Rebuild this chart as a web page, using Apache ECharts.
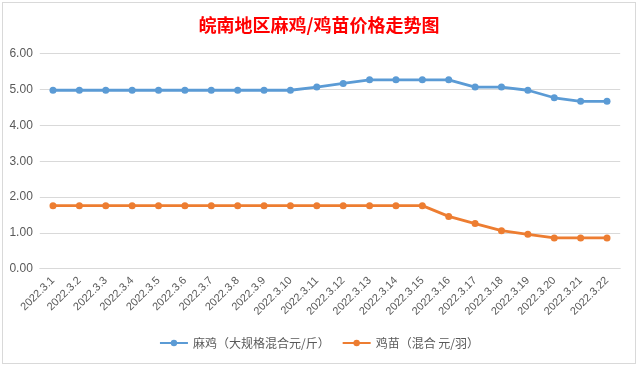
<!DOCTYPE html>
<html>
<head>
<meta charset="utf-8">
<script src="https://cdn.jsdelivr.net/npm/echarts@6/dist/echarts.min.js"></script>
<style>
html,body{margin:0;padding:0;background:#fff;}
#chart{position:absolute;left:0;top:0;width:638px;height:366px;}
#frame{position:absolute;left:2px;top:2px;width:634px;height:362px;box-sizing:border-box;border:1px solid #d9d9d9;pointer-events:none;}
</style>
</head>
<body>
<div id="chart"></div>
<div id="frame"></div>
<script>
const categories = ['2022.3.1','2022.3.2','2022.3.3','2022.3.4','2022.3.5','2022.3.6','2022.3.7','2022.3.8','2022.3.9','2022.3.10','2022.3.11','2022.3.12','2022.3.13','2022.3.14','2022.3.15','2022.3.16','2022.3.17','2022.3.18','2022.3.19','2022.3.20','2022.3.21','2022.3.22'];
const majiPrices = [4.98,4.98,4.98,4.98,4.98,4.98,4.98,4.98,4.98,4.98,5.07,5.17,5.27,5.27,5.27,5.27,5.07,5.07,4.98,4.77,4.67,4.67];
const jimiaoPrices = [1.76,1.76,1.76,1.76,1.76,1.76,1.76,1.76,1.76,1.76,1.76,1.76,1.76,1.76,1.76,1.46,1.26,1.06,0.96,0.86,0.86,0.86];
const seriesNames = ['麻鸡（大规格混合元/斤）','鸡苗（混合 元/羽）'];
const yTicks = [0,1,2,3,4,5,6];

const chart = echarts.init(document.getElementById('chart'), null, {renderer:'canvas'});
const txt = '#595959';
chart.setOption({
  animation:false,
  backgroundColor:'transparent',
  title:{
    text:'皖南地区麻鸡/鸡苗价格走势图',
    left:'center', top:11,
    textStyle:{color:'#ff0000', fontSize:18, fontWeight:'bold', fontFamily:'Noto Sans CJK SC'}
  },
  legend:{
    bottom:12, left:'center',
    itemWidth:28, itemHeight:8, itemGap:12,
    textStyle:{color:txt, fontSize:12, fontFamily:'Noto Sans CJK SC'},
    data:seriesNames
  },
  grid:{left:39.8, right:17.8, top:53.7, bottom:97.3},
  xAxis:{
    type:'category', data:categories, boundaryGap:true,
    axisLine:{lineStyle:{color:'#d9d9d9', width:1}},
    axisTick:{show:false},
    axisLabel:{interval:0, rotate:45, color:txt, fontSize:11, margin:10, fontFamily:'Liberation Sans'}
  },
  yAxis:{
    type:'value', min:yTicks[0], max:yTicks[yTicks.length-1], interval:1,
    axisLine:{show:false}, axisTick:{show:false},
    splitLine:{lineStyle:{color:'#d9d9d9', width:1}},
    axisLabel:{color:txt, fontSize:12, margin:7, fontFamily:'Liberation Sans', formatter:v=>v.toFixed(2)}
  },
  series:[
    {name:seriesNames[0], type:'line', data:majiPrices, symbol:'circle', symbolSize:7,
     itemStyle:{color:'#5b9bd5'}, lineStyle:{color:'#5b9bd5', width:2.8}},
    {name:seriesNames[1], type:'line', data:jimiaoPrices, symbol:'circle', symbolSize:7,
     itemStyle:{color:'#ed7d31'}, lineStyle:{color:'#ed7d31', width:2.8}}
  ]
});
</script>
</body>
</html>
